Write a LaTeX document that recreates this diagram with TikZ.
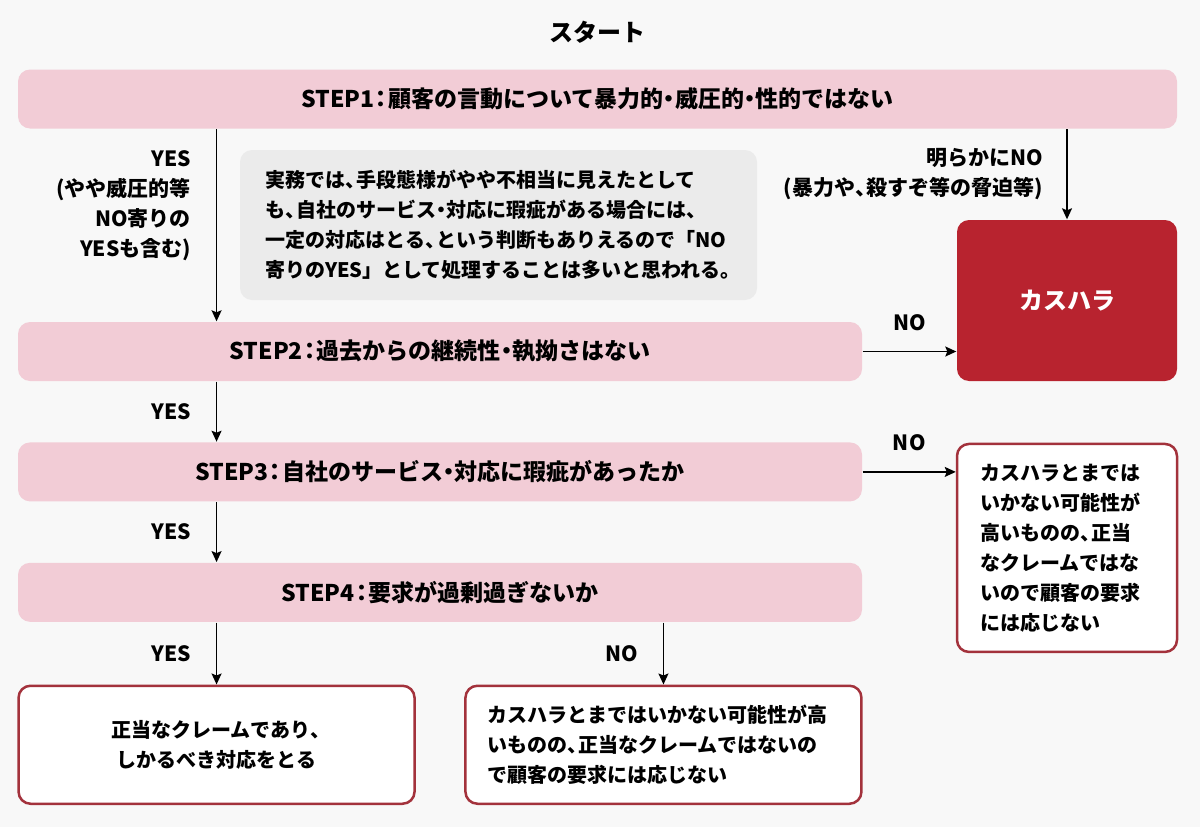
\documentclass[tikz,border=0pt]{standalone}
\usepackage{fontspec}
\setmainfont{Noto Sans CJK JP}
\usetikzlibrary{arrows.meta,positioning}
\definecolor{bgcol}{HTML}{F8F8F8}
\definecolor{stepcol}{HTML}{F2CCD6}
\definecolor{notecol}{HTML}{EBEBEB}
\definecolor{kasucol}{HTML}{B8232F}
\definecolor{edgecol}{HTML}{A3323C}
% narrow punctuation
\newcommand{\tou}{\makebox[0.55em][l]{、}}
\newcommand{\naka}{\hspace{-0.25em}・\hspace{-0.25em}}
\newcommand{\koron}{\hspace{-0.2em}：\hspace{-0.2em}}

\begin{document}
\begin{tikzpicture}[x=1pt,y=-1pt,line width=1.4pt,
  font=\bfseries\fontsize{20}{30}\selectfont,
  >={Stealth[length=11pt,width=10pt,inset=2pt]},
  stepbox/.style={fill=stepcol,rounded corners=12pt,minimum height=59pt,inner sep=0pt,
    font=\bfseries\fontsize{23}{30}\selectfont},
  endbox/.style={draw=edgecol,line width=2.5pt,fill=white,rounded corners=12pt,inner sep=0pt},
  lbl/.style={inner sep=0pt,font=\bfseries\fontsize{21}{30}\selectfont}]
\fill[bgcol] (0,0) rectangle (1200,827);
\useasboundingbox (0,0) rectangle (1200,827);

\node[lbl,font=\bfseries\fontsize{24}{28}\selectfont] (0) at (597,32)
{スタート};
\node[stepbox,minimum width=1159pt] (1) at (597.5,99)
{STEP1\koron 顧客の言動について暴力的\naka 威圧的\naka 性的ではない};
\node[stepbox,minimum width=844pt] (2) at (440,351.5)
{STEP2\koron 過去からの継続性\naka 執拗さはない};
\node[stepbox,minimum width=844pt,node distance=60pt] (3) [below =of 2]
{STEP3\koron 自社のサービス\naka 対応に瑕疵があったか};
\node[stepbox,minimum width=844pt,node distance=60pt] (4) [below =of 3]
{STEP4\koron 要求が過剰過ぎないか};
\node[fill=notecol,rounded corners=12pt,text width=467pt,inner xsep=25pt,inner ysep=0pt,
  minimum height=150pt,align=left] (m) at (498.5,225)
{実務では\tou 手段態様がやや不相当に見えたとして\\
も\tou 自社のサービス\naka 対応に瑕疵がある場合には\tou\\
一定の対応はとる\tou という判断もありえるので「NO\\
寄りのYES」として処理することは多いと思われる。};
\node[fill=kasucol,text=white,rounded corners=12pt,minimum width=220pt,minimum height=161pt,
  font=\bfseries\fontsize{24}{28}\selectfont] (k) at (1067,300.5)
{カスハラ};
\node[endbox,text width=174pt,inner xsep=23pt,minimum height=208pt,align=left,
  node distance=61pt] (k2) [below =of k]
{カスハラとまでは\\
いかない可能性が\\
高いものの\tou 正当\\
なクレームではな\\
いので顧客の要求\\
には応じない};
\node[endbox,minimum width=396pt,minimum height=118pt,align=center] (5)
  [below=62pt of 4.south west,anchor=north west]
{正当なクレームであり\tou\\
しかるべき対応をとる};
\node[endbox,text width=352pt,inner xsep=22pt,minimum height=118pt,align=left] (6)
  [below=62pt of 4.south east,anchor=north east]
{カスハラとまではいかない可能性が高\\
いものの\tou 正当なクレームではないの\\
で顧客の要求には応じない};

\draw[->] (1.south -| 5.north) -- node[lbl,pos=0.4,left=25pt,align=right]
  {YES\\(やや威圧的等\\NO寄りの\\YESも含む)} (2.north -| 5.north);
\draw[->] (1.south -| k.north) -- node[lbl,left=23pt,align=right]
  {明らかにNO\\(暴力や\tou 殺すぞ等の脅迫等)} (k.north);
\draw[->] (2.east) -- node[lbl,above=20pt] {NO} (k.west |- 2.east);
\draw[->] (2.south -| 5.north) -- node[lbl,left=25pt] {YES} (3.north -| 5.north);
\draw[->] (3.east) -- node[lbl,above=20pt] {NO} (k2.west |- 3.east);
\draw[->] (3.south -| 5.north) -- node[lbl,left=25pt] {YES} (4.north -| 5.north);
\draw[->] (4.south -| 5.north) -- node[lbl,left=25pt] {YES} (5.north);
\draw[->] (4.south -| 6.north) -- node[lbl,left=25pt] {NO} (6.north);
\end{tikzpicture}
\end{document}
